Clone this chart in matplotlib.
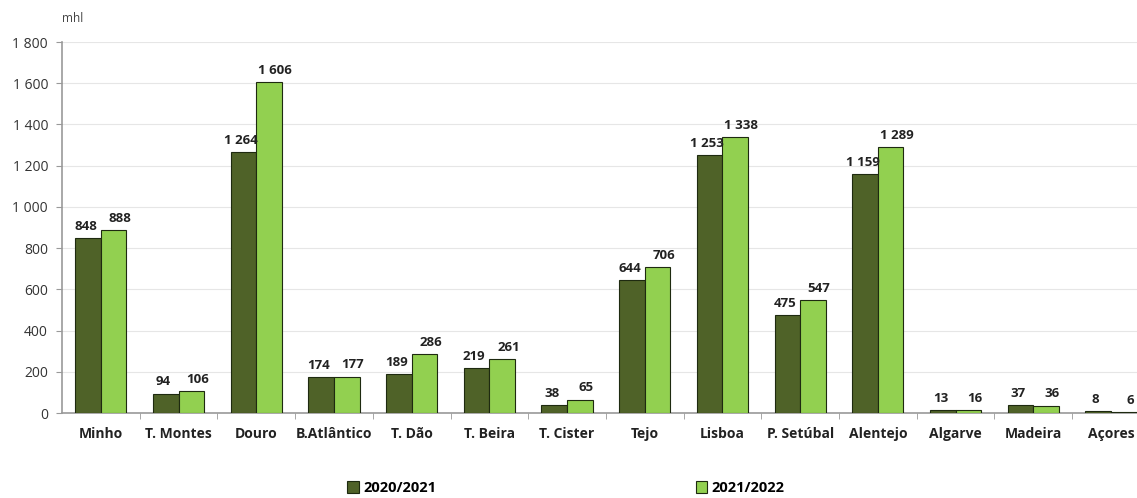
import numpy as np
import matplotlib.pyplot as plt
from matplotlib.ticker import FuncFormatter

regions = ['Minho', 'T. Montes', 'Douro', 'B.Atlântico', 'T. Dão', 'T. Beira', 'T. Cister',
           'Tejo', 'Lisboa', 'P. Setúbal', 'Alentejo', 'Algarve', 'Madeira', 'Açores']
prod_2021 = [848, 94, 1264, 174, 189, 219, 38, 644, 1253, 475, 1159, 13, 37, 8]
prod_2022 = [888, 106, 1606, 177, 286, 261, 65, 706, 1338, 547, 1289, 16, 36, 6]
series_labels = ['2020/2021', '2021/2022']

plt.rcParams['font.family'] = ['Open Sans', 'DejaVu Sans']

def fmt(v):
    return f"{int(v):,}".replace(',', ' ')

fig = plt.figure(figsize=(11.37, 4.98), dpi=100)
ax = fig.add_axes([62 / 1137, 85 / 498, 1075 / 1137, 371 / 498])

x = np.arange(len(regions))
w = 0.33
dark = '#4f6228'
light = '#92d050'
b1 = ax.bar(x - w / 2, prod_2021, w, color=dark, edgecolor='#1e2a10', linewidth=0.8,
            label=series_labels[0], zorder=3)
b2 = ax.bar(x + w / 2, prod_2022, w, color=light, edgecolor='#1e2a10', linewidth=0.8,
            label=series_labels[1], zorder=3)

# value labels above bars
for i in range(len(regions)):
    ax.text(x[i] - w / 2 - 0.03, prod_2021[i] + 25, fmt(prod_2021[i]), ha='center', va='bottom',
            fontsize=9.5, fontweight='bold', color='#222222')
    ax.text(x[i] + w / 2 + 0.08, prod_2022[i] + 25, fmt(prod_2022[i]), ha='center', va='bottom',
            fontsize=9.5, fontweight='bold', color='#222222')

ax.set_ylim(0, 1800)
ax.set_yticks(np.arange(0, 1801, 200))
ax.yaxis.set_major_formatter(FuncFormatter(lambda v, p: fmt(v)))
ax.set_xlim(-0.5, -0.5 + 1075 / 77.7)
ax.set_xticks(x)
ax.set_xticklabels(regions, fontsize=10, fontweight='bold', color='#222222')
ax.set_xticks(np.arange(0.5, len(regions) - 0.5, 1), minor=True)
ax.tick_params(axis='x', which='major', length=0, pad=10)
ax.tick_params(axis='x', which='minor', length=4, color='#999999')
ax.tick_params(axis='y', length=4, color='#999999', labelsize=10, labelcolor='#333333', pad=6)

ax.grid(axis='y', color='#e6e6e6', linewidth=0.8, zorder=0)
for s in ['top', 'right']:
    ax.spines[s].set_visible(False)
ax.spines['left'].set_color('#999999')
ax.spines['bottom'].set_color('#999999')
ax.spines['left'].set_linewidth(1.2)
ax.spines['bottom'].set_linewidth(1.2)

fig.text(62 / 1137, 1 - 18 / 498, 'mhl', fontsize=8.5, color='#444444', ha='left', va='center')

fig.legend(handles=[b1, b2], loc='center', bbox_to_anchor=(566 / 1137, 1 - 488 / 498), ncol=2,
           frameon=False, columnspacing=17.8, handlelength=0.8, handleheight=0.8, handletextpad=0.3,
           prop={'size': 10.5, 'weight': 'bold'})

fig.savefig('out.png', dpi=100)
